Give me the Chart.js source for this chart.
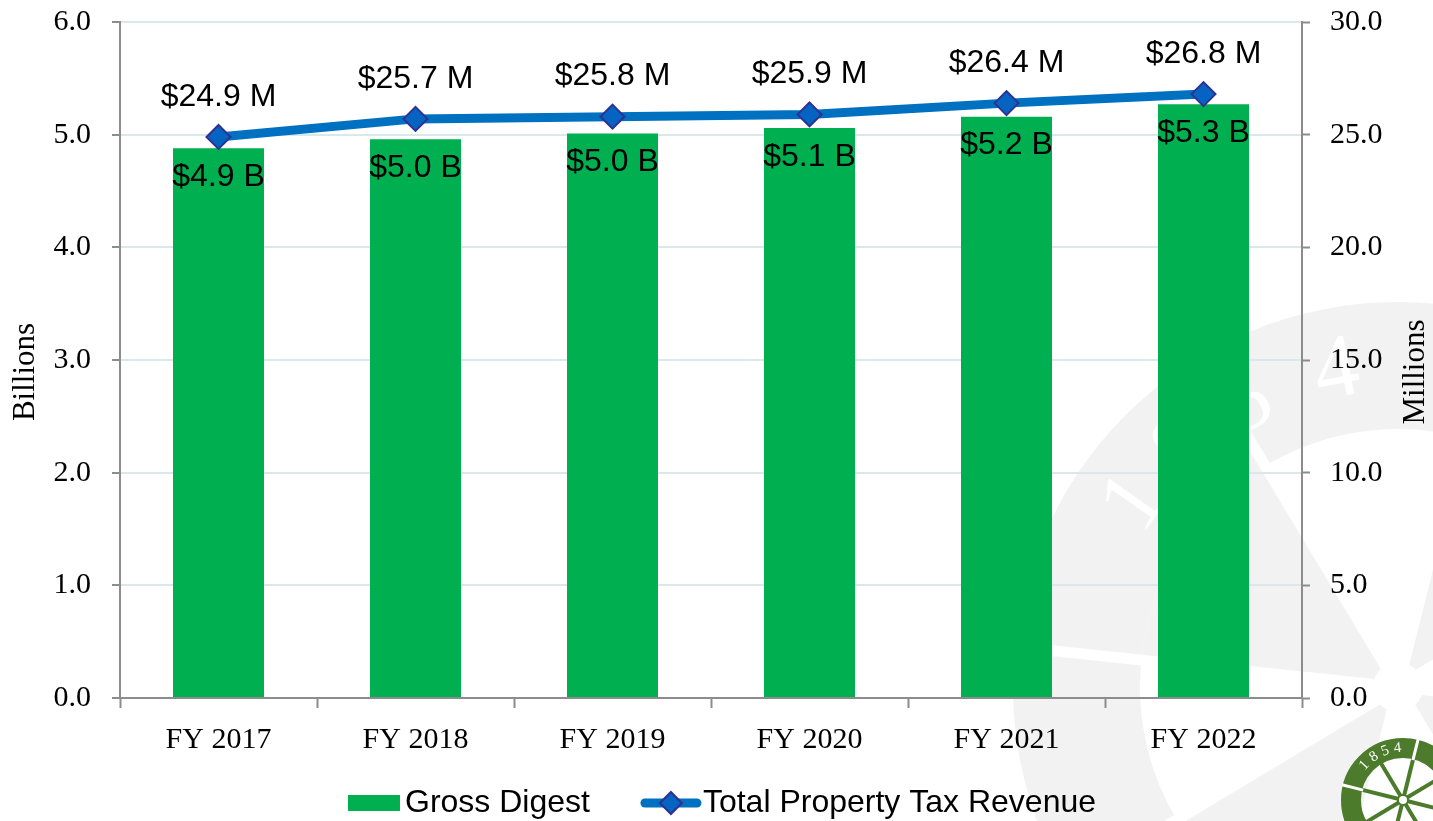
<!DOCTYPE html>
<html>
<head>
<meta charset="utf-8">
<title>Gross Digest and Property Tax Revenue</title>
<script src="https://cdn.jsdelivr.net/npm/chart.js@4.4.0/dist/chart.umd.min.js"></script>
<style>
  html, body { margin: 0; padding: 0; background: #fff; }
  #wrap { width: 1433px; height: 821px; }
</style>
</head>
<body>
<div id="wrap"><canvas id="digestChart" width="1433" height="821"></canvas></div>
<script>
// fiscal years and values
var years = ["FY 2017", "FY 2018", "FY 2019", "FY 2020", "FY 2021", "FY 2022"];
var grossDigest = [4.88, 4.96, 5.01, 5.06, 5.16, 5.27];   // billions
var taxRevenue = [24.9, 25.7, 25.8, 25.9, 26.4, 26.8];     // millions
var billionTicks = [0, 1, 2, 3, 4, 5, 6];
var millionTicks = [0, 5, 10, 15, 20, 25, 30];

var SERIF = '"Liberation Serif", "Times New Roman", serif';
var SANS = '"Liberation Sans", Arial, sans-serif';
var AXIS_GREY = '#8c8c8c';

function deg(d) { return d * Math.PI / 180; }

// faint ship's wheel behind the plot
function drawWatermark(ctx) {
  var cx = 1398, cy = 687, i, a;
  var grey = '#f2f2f2';
  var spokes = [186, 239, 284, 329, 6, 59, 104, 149];
  ctx.save();
  ctx.fillStyle = grey;
  ctx.beginPath(); ctx.arc(cx, cy, 385, 0, Math.PI * 2); ctx.fill();
  ctx.fillStyle = '#fff';
  ctx.beginPath(); ctx.arc(cx, cy, 258, 0, Math.PI * 2); ctx.fill();
  // alternating shaded sectors of the face
  ctx.fillStyle = grey;
  for (i = 0; i < 8; i += 2) {
    var a0 = spokes[i], a1 = spokes[(i + 1) % 8];
    if (a1 < a0) a1 += 360;
    ctx.beginPath();
    ctx.moveTo(cx, cy);
    ctx.arc(cx, cy, 258, deg(a0), deg(a1));
    ctx.closePath();
    ctx.fill();
  }
  // spokes run out through the rim as handles
  ctx.strokeStyle = '#fff';
  ctx.lineWidth = 11;
  for (i = 0; i < 8; i++) {
    a = deg(spokes[i]);
    ctx.beginPath();
    ctx.moveTo(cx, cy);
    ctx.lineTo(cx + Math.cos(a) * 420, cy + Math.sin(a) * 420);
    ctx.stroke();
  }
  ctx.fillStyle = '#fff';
  ctx.beginPath(); ctx.arc(cx, cy, 25, 0, Math.PI * 2); ctx.fill();
  // year lettered round the rim
  var chars = ['1', '8', '5', '4'];
  var angs = [215, 228, 242, 259];
  ctx.font = '90px ' + SERIF;
  ctx.textAlign = 'center';
  ctx.textBaseline = 'middle';
  for (i = 0; i < chars.length; i++) {
    a = deg(angs[i]);
    ctx.save();
    ctx.translate(cx + Math.cos(a) * 320, cy + Math.sin(a) * 320);
    ctx.rotate(a + Math.PI / 2);
    ctx.fillText(chars[i], 0, 0);
    ctx.restore();
  }
  ctx.restore();
}

// small green wheel in the corner
function drawLogo(ctx) {
  var cx = 1403, cy = 800, i, a;
  var green = '#4b7b2b';
  ctx.save();
  ctx.strokeStyle = green;
  ctx.lineWidth = 20;
  ctx.beginPath(); ctx.arc(cx, cy, 52, 0, Math.PI * 2); ctx.stroke();
  ctx.lineWidth = 4;
  for (i = 0; i < 8; i++) {
    a = deg(194 + i * 45);
    ctx.strokeStyle = green;
    ctx.beginPath();
    ctx.moveTo(cx, cy);
    ctx.lineTo(cx + Math.cos(a) * 44, cy + Math.sin(a) * 44);
    ctx.stroke();
  }
  ctx.strokeStyle = '#fff';
  ctx.lineWidth = 3;
  [194, 284].forEach(function (d) {
    var r = deg(d);
    ctx.beginPath();
    ctx.moveTo(cx + Math.cos(r) * 41, cy + Math.sin(r) * 41);
    ctx.lineTo(cx + Math.cos(r) * 63, cy + Math.sin(r) * 63);
    ctx.stroke();
  });
  ctx.fillStyle = '#fff';
  ctx.strokeStyle = green;
  ctx.lineWidth = 2;
  ctx.beginPath(); ctx.arc(cx, cy, 5, 0, Math.PI * 2); ctx.fill(); ctx.stroke();
  var chars = ['1', '8', '5', '4'];
  var angs = [222, 236, 250, 264];
  ctx.fillStyle = '#fff';
  ctx.font = '15px ' + SERIF;
  ctx.textAlign = 'center';
  ctx.textBaseline = 'middle';
  for (i = 0; i < chars.length; i++) {
    a = deg(angs[i]);
    ctx.save();
    ctx.translate(cx + Math.cos(a) * 52, cy + Math.sin(a) * 52);
    ctx.rotate(a + Math.PI / 2);
    ctx.fillText(chars[i], 0, 0);
    ctx.restore();
  }
  ctx.restore();
}

var background = {
  id: 'background',
  beforeDraw: function (chart) {
    var ctx = chart.ctx;
    ctx.save();
    ctx.fillStyle = '#fff';
    ctx.fillRect(0, 0, chart.width, chart.height);
    ctx.restore();
    drawWatermark(ctx);
  }
};

// value labels over the line points and inside the bar tops
var valueLabels = {
  id: 'valueLabels',
  afterDatasetsDraw: function (chart) {
    var ctx = chart.ctx;
    ctx.save();
    ctx.font = '32px ' + SANS;
    ctx.fillStyle = '#000';
    ctx.textAlign = 'center';
    ctx.textBaseline = 'middle';
    chart.getDatasetMeta(0).data.forEach(function (bar, i) {
      ctx.fillText('$' + grossDigest[i].toFixed(1) + ' B', bar.x, bar.y + 29);
    });
    chart.getDatasetMeta(1).data.forEach(function (pt, i) {
      ctx.fillText('$' + taxRevenue[i].toFixed(1) + ' M', pt.x, pt.y - 40);
    });
    ctx.restore();
  }
};

// both axis titles read bottom to top
var axisTitles = {
  id: 'axisTitles',
  afterDraw: function (chart) {
    var ctx = chart.ctx;
    var mid = (chart.chartArea.top + chart.chartArea.bottom) / 2 + 12;
    ctx.save();
    ctx.font = '31px ' + SERIF;
    ctx.fillStyle = '#000';
    ctx.textAlign = 'center';
    ctx.textBaseline = 'middle';
    [['Billions', 26], ['Millions', 1416]].forEach(function (t) {
      ctx.save();
      ctx.translate(t[1], mid);
      ctx.rotate(-Math.PI / 2);
      ctx.fillText(t[0], 0, 0);
      ctx.restore();
    });
    ctx.restore();
  }
};

var bottomLegend = {
  id: 'bottomLegend',
  afterDraw: function (chart) {
    var ctx = chart.ctx;
    var ds = chart.data.datasets;
    var y = 803;
    ctx.save();
    ctx.font = '32px ' + SANS;
    ctx.textBaseline = 'middle';
    var w1 = ctx.measureText(ds[0].label).width;
    var w2 = ctx.measureText(ds[1].label).width;
    var total = 52 + 5 + w1 + 51 + 60 + 2 + w2;
    var x = 722 - total / 2;
    ctx.fillStyle = ds[0].backgroundColor;
    ctx.fillRect(x, y - 8, 52, 16);
    x += 57;
    ctx.fillStyle = '#000';
    ctx.fillText(ds[0].label, x, y);
    x += w1 + 51;
    ctx.strokeStyle = ds[1].borderColor;
    ctx.lineWidth = 9;
    ctx.lineCap = 'round';
    ctx.beginPath();
    ctx.moveTo(x + 4, y);
    ctx.lineTo(x + 56, y);
    ctx.stroke();
    ctx.fillStyle = ds[1].pointBackgroundColor;
    ctx.strokeStyle = ds[1].pointBorderColor;
    ctx.lineWidth = 2;
    ctx.beginPath();
    ctx.moveTo(x + 30, y - 11);
    ctx.lineTo(x + 41, y);
    ctx.lineTo(x + 30, y + 11);
    ctx.lineTo(x + 19, y);
    ctx.closePath();
    ctx.fill();
    ctx.stroke();
    x += 62;
    ctx.fillStyle = '#000';
    ctx.fillText(ds[1].label, x, y);
    ctx.restore();
    drawLogo(ctx);
  }
};

// fixed axis widths; no extra room reserved above the top tick label
function fitVertical(width) {
  return function (s) {
    s.width = width;
    s.paddingTop = 0;
    s.paddingBottom = 0;
  };
}

var ctx = document.getElementById('digestChart').getContext('2d');
var digestChart = new Chart(ctx, {
  type: 'bar',
  data: {
    labels: years,
    datasets: [{
        label: 'Gross Digest',
        data: grossDigest,
        backgroundColor: '#00b050',
        barPercentage: 0.462,
        categoryPercentage: 1,
        yAxisID: 'yB',
        order: 2
      },
      {
        type: 'line',
        label: 'Total Property Tax Revenue',
        data: taxRevenue,
        borderColor: '#0070c0',
        borderWidth: 9,
        pointStyle: 'rectRot',
        pointRadius: 12,
        pointBackgroundColor: '#0563c1',
        pointBorderColor: '#2e3192',
        pointBorderWidth: 2,
        tension: 0,
        yAxisID: 'yM',
        order: 1
      }
    ]
  },
  options: {
    responsive: false,
    animation: false,
    events: [],
    layout: { padding: { top: 22, bottom: 63, left: 0, right: 0 } },
    plugins: {
      legend: { display: false },
      tooltip: { enabled: false }
    },
    scales: {
      x: {
        offset: true,
        grid: { display: true, drawOnChartArea: false, offset: true, tickLength: 10, tickColor: AXIS_GREY, tickWidth: 2 },
        border: { color: AXIS_GREY, width: 2 },
        ticks: { color: '#000', font: { family: SERIF, size: 30 }, padding: 14, maxRotation: 0 },
        afterFit: function (s) { s.height = 60; }
      },
      yB: {
        position: 'left',
        min: 0,
        max: 6,
        afterBuildTicks: function (s) { s.ticks = billionTicks.map(function (v) { return { value: v }; }); },
        grid: {
          color: function (c) { return c.tick && c.tick.value === 0 ? 'rgba(0,0,0,0)' : '#d9e8ea'; },
          lineWidth: 2,
          tickColor: AXIS_GREY,
          tickWidth: 2,
          tickLength: 8
        },
        border: { color: AXIS_GREY, width: 2 },
        ticks: {
          color: '#000',
          font: { family: SERIF, size: 30 },
          padding: 21,
          callback: function (v) { return v.toFixed(1); }
        },
        afterFit: fitVertical(120)
      },
      yM: {
        position: 'right',
        min: 0,
        max: 30,
        afterBuildTicks: function (s) { s.ticks = millionTicks.map(function (v) { return { value: v }; }); },
        grid: { drawOnChartArea: false, tickColor: AXIS_GREY, tickWidth: 2, tickLength: 8 },
        border: { color: AXIS_GREY, width: 2 },
        ticks: {
          color: '#000',
          font: { family: SERIF, size: 30 },
          padding: 20,
          callback: function (v) { return v.toFixed(1); }
        },
        afterFit: fitVertical(131)
      }
    }
  },
  plugins: [background, valueLabels, axisTitles, bottomLegend]
});
</script>
</body>
</html>
